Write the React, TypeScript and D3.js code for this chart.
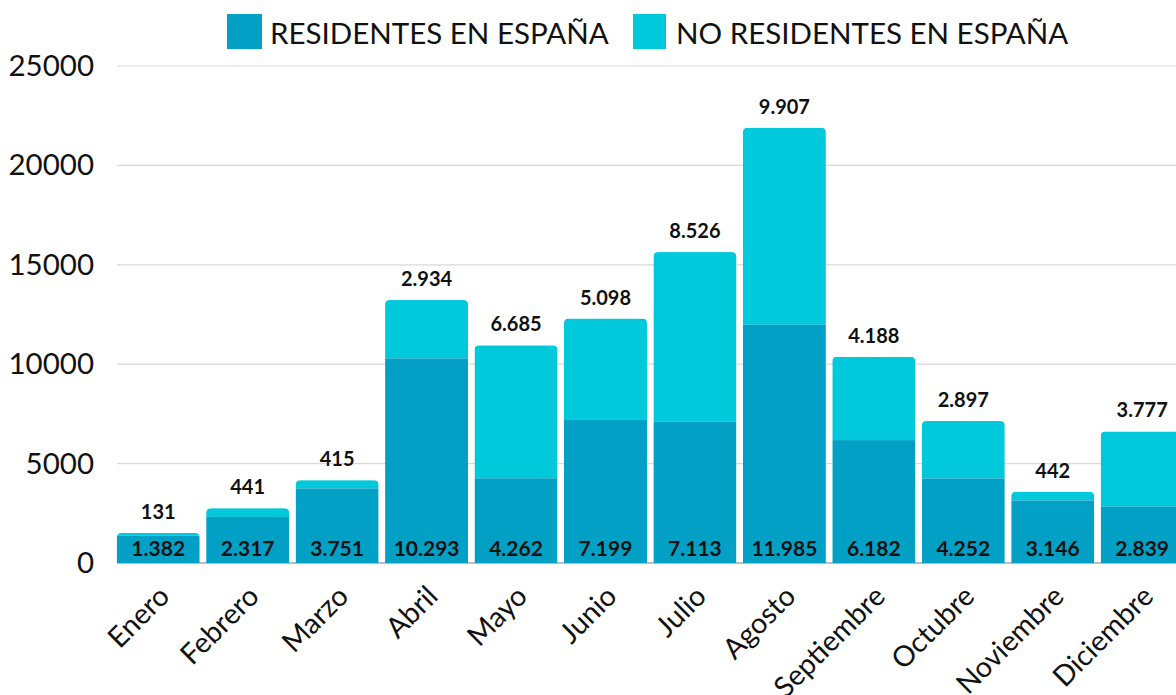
import React from "react";
import * as d3 from "d3";

const months = ["Enero","Febrero","Marzo","Abril","Mayo","Junio","Julio","Agosto","Septiembre","Octubre","Noviembre","Diciembre"];
const residentes = [1382,2317,3751,10293,4262,7199,7113,11985,6182,4252,3146,2839];
const noResidentes = [131,441,415,2934,6685,5098,8526,9907,4188,2897,442,3777];
const yTicks = [0,5000,10000,15000,20000,25000];
const seriesNames = ["RESIDENTES EN ESPAÑA","NO RESIDENTES EN ESPAÑA"];
const colors = ["#01A0C4","#00C9DB"];

const W = 1176, H = 695;
const FONT = "Lato, 'Noto Sans', sans-serif";

function fmt(v: number) {
  return d3.format(",")(v).replace(/,/g, ".");
}

function roundTop(x: number, y: number, w: number, h: number, r: number) {
  const rr = Math.min(r, h, w / 2);
  return `M${x},${y + h}V${y + rr}Q${x},${y} ${x + rr},${y}H${x + w - rr}Q${x + w},${y} ${x + w},${y + rr}V${y + h}Z`;
}

export default function App() {
  const y = d3.scaleLinear().domain([0, 25000]).range([563, 66]);
  const x = d3.scaleBand<string>().domain(months).range([113.5, 113.5 + 12 * 89.45]).paddingInner(0.072).paddingOuter(0.036);
  const bw = x.bandwidth();
  return (
    <div style={{ position: "absolute", left: 0, top: 0, width: W, height: H, overflow: "hidden", background: "#fff" }}>
      <svg width={W} height={H} style={{ display: "block", fontFamily: FONT }}>
        <defs>
          {months.map((m, i) => {
            const x0 = x(m)!;
            const tot = residentes[i] + noResidentes[i];
            return (
              <clipPath id={`clip${i}`} key={m}>
                <path d={roundTop(x0, y(tot), bw, y(0) - y(tot), 5)} />
              </clipPath>
            );
          })}
        </defs>
        {yTicks.map((t) => (
          <g key={t}>
            {t !== 0 && <line x1={117} x2={W} y1={y(t)} y2={y(t)} stroke="#d9d9d9" strokeWidth={1.2} />}
            <text x={94} y={y(t) + 10} textAnchor="end" fontSize={29.5} fill="#111">{t}</text>
          </g>
        ))}
        <line x1={117} x2={W} y1={y(0)} y2={y(0)} stroke="#bdbdbd" strokeWidth={2} />
        {months.map((m, i) => {
          const x0 = x(m)!;
          const r = residentes[i], n = noResidentes[i];
          const tot = r + n;
          const cx = x0 + bw / 2;
          return (
            <g key={m}>
              <g clipPath={`url(#clip${i})`}>
                <rect x={x0} y={y(tot)} width={bw} height={y(r) - y(tot)} fill={colors[1]} />
                <rect x={x0} y={y(r)} width={bw} height={y(0) - y(r)} fill={colors[0]} />
              </g>
              <text x={cx} y={y(tot) - 14} textAnchor="middle" fontSize={20} fontWeight="bold" fill="#111">{fmt(n)}</text>
              <text x={cx} y={556} textAnchor="middle" fontSize={21} fontWeight="bold" fill="#111">{fmt(r)}</text>
              <text transform={`translate(${cx + 13},${598}) rotate(-45)`} textAnchor="end" fontSize={28.5} fill="#111">{m}</text>
            </g>
          );
        })}
        <rect x={227} y={14} width={35} height={35} fill={colors[0]} />
        <text x={270} y={44} fontSize={29.5} fill="#111">{seriesNames[0]}</text>
        <rect x={633} y={14} width={33} height={35} fill={colors[1]} />
        <text x={676} y={44} fontSize={29.5} fill="#111">{seriesNames[1]}</text>
      </svg>
    </div>
  );
}
